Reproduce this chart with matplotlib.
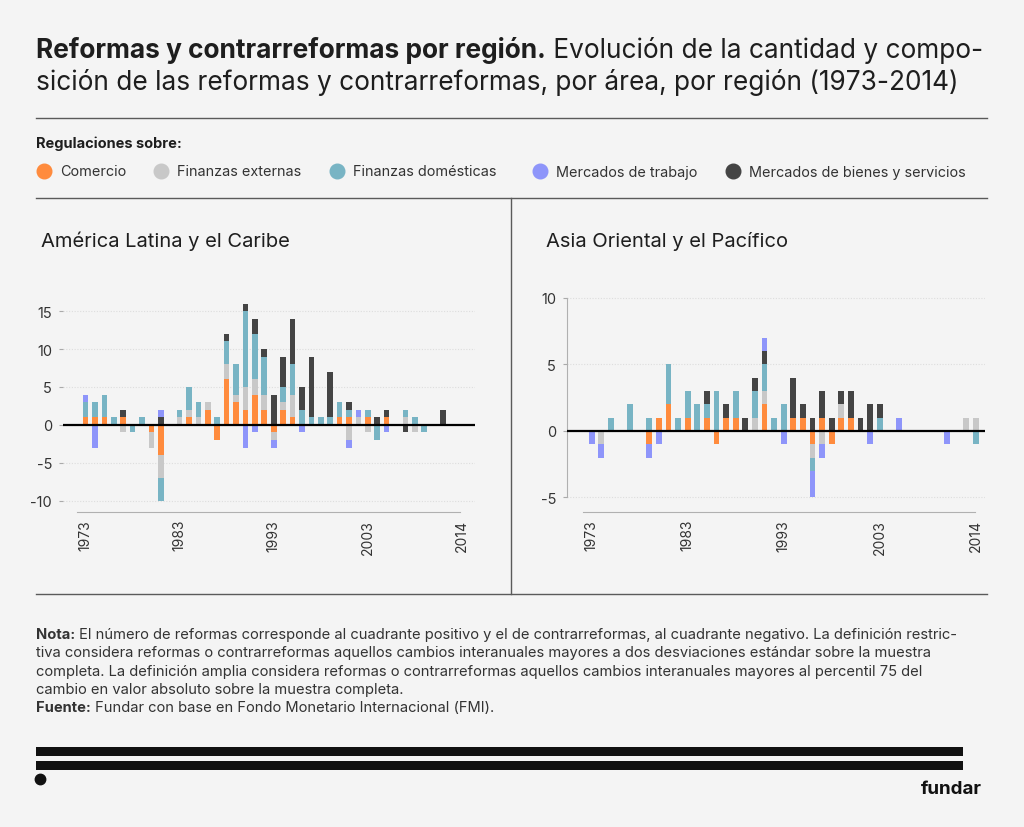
import numpy as np
import matplotlib.pyplot as plt
from matplotlib.lines import Line2D
from matplotlib.patches import Rectangle

plt.rcParams['font.family'] = ['Inter', 'DejaVu Sans']

W, H = 1024, 828
BG = '#f4f4f4'

# categorias del eje x (41 posiciones), etiquetas que se muestran
n_years = 41
tick_pos = [0, 10, 20, 30, 40]
tick_labels = ['1973', '1983', '1993', '2003', '2014']

# America Latina y el Caribe: reformas (positivo)
al_com_pos = [1, 1, 1, 0, 1, 0, 0, 0, 0, 0,  0, 1, 0, 2, 0, 6, 3, 2, 4, 2,  0, 2, 1, 0, 0, 0, 0, 1, 1, 0,  1, 0, 1, 0, 0, 0, 0, 0, 0, 0, 0]
al_ext_pos = [0, 0, 0, 0, 0, 0, 0, 0, 0, 0,  1, 1, 1, 1, 0, 2, 1, 3, 2, 2,  0, 1, 3, 0, 0, 0, 0, 0, 0, 1,  0, 0, 0, 0, 1, 0, 0, 0, 0, 0, 0]
al_dom_pos = [2, 2, 3, 1, 0, 0, 1, 0, 0, 0,  1, 3, 2, 0, 1, 3, 4, 10, 6, 5,  0, 2, 4, 2, 1, 1, 1, 2, 1, 0,  1, 0, 0, 0, 1, 1, 0, 0, 0, 0, 0]
al_bie_pos = [0, 0, 0, 0, 1, 0, 0, 0, 1, 0,  0, 0, 0, 0, 0, 1, 0, 1, 2, 1,  4, 4, 6, 3, 8, 0, 6, 0, 1, 0,  0, 1, 1, 0, 0, 0, 0, 0, 2, 0, 0]
al_lab_pos = [1, 0, 0, 0, 0, 0, 0, 0, 1, 0,  0, 0, 0, 0, 0, 0, 0, 0, 0, 0,  0, 0, 0, 0, 0, 0, 0, 0, 0, 1,  0, 0, 0, 0, 0, 0, 0, 0, 0, 0, 0]
# contrarreformas (negativo)
al_com_neg = [0, 0, 0, 0, 0, 0, 0, -1, -4, 0,  0, 0, 0, 0, -2, 0, 0, 0, 0, 0,  -1, 0, 0, 0, 0, 0, 0, 0, 0, 0,  0, 0, 0, 0, 0, 0, 0, 0, 0, 0, 0]
al_ext_neg = [0, 0, 0, 0, -1, 0, 0, -2, -3, 0,  0, 0, 0, 0, 0, 0, 0, 0, 0, 0,  -1, 0, 0, 0, 0, 0, 0, 0, -2, 0,  -1, 0, 0, 0, 0, -1, 0, 0, 0, 0, 0]
al_dom_neg = [0, 0, 0, 0, 0, -1, 0, 0, -3, 0,  0, 0, 0, 0, 0, 0, 0, 0, 0, 0,  0, 0, 0, 0, 0, 0, 0, 0, 0, 0,  0, -2, 0, 0, 0, 0, -1, 0, 0, 0, 0]
al_bie_neg = [0, 0, 0, 0, 0, 0, 0, 0, 0, 0,  0, 0, 0, 0, 0, 0, 0, 0, 0, 0,  0, 0, 0, 0, 0, 0, 0, 0, 0, 0,  0, 0, 0, 0, -1, 0, 0, 0, 0, 0, 0]
al_lab_neg = [0, -3, 0, 0, 0, 0, 0, 0, 0, 0,  0, 0, 0, 0, 0, 0, 0, -3, -1, 0,  -1, 0, 0, -1, 0, 0, 0, 0, -1, 0,  0, 0, -1, 0, 0, 0, 0, 0, 0, 0, 0]

# Asia Oriental y el Pacifico
ao_com_pos = [0, 0, 0, 0, 0, 0, 0, 1, 2, 0,  1, 0, 1, 0, 1, 1, 0, 0, 2, 0,  0, 1, 1, 0, 1, 0, 1, 1, 0, 0,  0, 0, 0, 0, 0, 0, 0, 0, 0, 0, 0]
ao_ext_pos = [0, 0, 0, 0, 0, 0, 0, 0, 0, 0,  0, 0, 0, 0, 0, 0, 0, 1, 1, 0,  0, 0, 0, 0, 0, 0, 1, 0, 0, 0,  0, 0, 0, 0, 0, 0, 0, 0, 0, 1, 1]
ao_dom_pos = [0, 0, 1, 0, 2, 0, 1, 0, 3, 1,  2, 2, 1, 3, 0, 2, 0, 2, 2, 1,  2, 0, 0, 0, 0, 0, 0, 0, 0, 0,  1, 0, 0, 0, 0, 0, 0, 0, 0, 0, 0]
ao_bie_pos = [0, 0, 0, 0, 0, 0, 0, 0, 0, 0,  0, 0, 1, 0, 1, 0, 1, 1, 1, 0,  0, 3, 1, 1, 2, 1, 1, 2, 1, 2,  1, 0, 0, 0, 0, 0, 0, 0, 0, 0, 0]
ao_lab_pos = [0, 0, 0, 0, 0, 0, 0, 0, 0, 0,  0, 0, 0, 0, 0, 0, 0, 0, 1, 0,  0, 0, 0, 0, 0, 0, 0, 0, 0, 0,  0, 0, 1, 0, 0, 0, 0, 0, 0, 0, 0]
ao_com_neg = [0, 0, 0, 0, 0, 0, -1, 0, 0, 0,  0, 0, 0, -1, 0, 0, 0, 0, 0, 0,  0, 0, 0, -1, 0, -1, 0, 0, 0, 0,  0, 0, 0, 0, 0, 0, 0, 0, 0, 0, 0]
ao_ext_neg = [0, -1, 0, 0, 0, 0, 0, 0, 0, 0,  0, 0, 0, 0, 0, 0, 0, 0, 0, 0,  0, 0, 0, -1, -1, 0, 0, 0, 0, 0,  0, 0, 0, 0, 0, 0, 0, 0, 0, 0, 0]
ao_dom_neg = [0, 0, 0, 0, 0, 0, 0, 0, 0, 0,  0, 0, 0, 0, 0, 0, 0, 0, 0, 0,  0, 0, 0, -1, 0, 0, 0, 0, 0, 0,  0, 0, 0, 0, 0, 0, 0, 0, 0, 0, -1]
ao_bie_neg = [0] * 41
ao_lab_neg = [-1, -1, 0, 0, 0, 0, -1, -1, 0, 0,  0, 0, 0, 0, 0, 0, 0, 0, 0, 0,  -1, 0, 0, -2, -1, 0, 0, 0, 0, -1,  0, 0, 0, 0, 0, 0, 0, -1, 0, 0, 0]

colors = {
    'Comercio': '#ff8b3d',
    'Finanzas externas': '#c8c8c8',
    'Finanzas domésticas': '#78b4c4',
    'Mercados de trabajo': '#8e95fa',
    'Mercados de bienes y servicios': '#444444',
}
# orden de apilado (de abajo hacia arriba)
stack_order = ['Comercio', 'Finanzas externas', 'Finanzas domésticas',
               'Mercados de bienes y servicios', 'Mercados de trabajo']
legend_order = ['Comercio', 'Finanzas externas', 'Finanzas domésticas',
                'Mercados de trabajo', 'Mercados de bienes y servicios']

al_pos = [al_com_pos, al_ext_pos, al_dom_pos, al_bie_pos, al_lab_pos]
al_neg = [al_com_neg, al_ext_neg, al_dom_neg, al_bie_neg, al_lab_neg]
ao_pos = [ao_com_pos, ao_ext_pos, ao_dom_pos, ao_bie_pos, ao_lab_pos]
ao_neg = [ao_com_neg, ao_ext_neg, ao_dom_neg, ao_bie_neg, ao_lab_neg]


def px(x, y):
    return x / W, 1 - y / H


fig = plt.figure(figsize=(W / 100, H / 100), dpi=100, facecolor=BG)
renderer = fig.canvas.get_renderer()


def rich(x, y, parts, size, color='#1e1e1e'):
    for txt, weight in parts:
        t = fig.text(*px(x, y), txt, fontsize=size, fontweight=weight,
                     color=color, va='baseline', ha='left')
        x = t.get_window_extent(renderer).x1


def hline(y, x0=36, x1=987, color='#5a5a5a', lw=1.0):
    fig.add_artist(Line2D([x0 / W, x1 / W], [1 - y / H] * 2, color=color, lw=lw))


def draw_panel(box, xlim, ylim, yticks, pos, neg, xbounds, left_spine):
    x0, y0, x1, y1 = box
    ax = fig.add_axes([x0 / W, 1 - y1 / H, (x1 - x0) / W, (y1 - y0) / H])
    ax.set_facecolor('none')
    x = np.arange(n_years)
    bp = np.zeros(n_years)
    bn = np.zeros(n_years)
    for name, vp, vn in zip(stack_order, pos, neg):
        vp = np.array(vp, dtype=float)
        vn = np.array(vn, dtype=float)
        ax.bar(x, vp, 0.6, bottom=bp, color=colors[name], lw=0, zorder=2)
        ax.bar(x, vn, 0.6, bottom=bn, color=colors[name], lw=0, zorder=2)
        bp += vp
        bn += vn
    ax.axhline(0, color='black', lw=1.6, zorder=3)
    ax.set_xlim(*xlim)
    ax.set_ylim(*ylim)
    ax.set_yticks(yticks)
    ax.set_yticklabels([str(v) for v in yticks])
    ax.yaxis.grid(True, linestyle=(0, (1, 1.5)), color='#dddddd', lw=0.8)
    ax.set_axisbelow(True)
    ax.set_xticks(tick_pos)
    ax.set_xticklabels(tick_labels, rotation=90)
    ax.tick_params(axis='x', length=0, pad=5, labelsize=10, labelcolor='#333333')
    ax.tick_params(axis='y', length=3, width=0.8, color='#aaaaaa', pad=5,
                   labelsize=10.5, labelcolor='#333333')
    for s in ['top', 'right']:
        ax.spines[s].set_visible(False)
    ax.spines['bottom'].set_color('#b0b0b0')
    ax.spines['bottom'].set_bounds(*xbounds)
    if left_spine:
        ax.spines['left'].set_color('#b0b0b0')
        ax.spines['left'].set_bounds(yticks[0], yticks[-1])
    else:
        ax.spines['left'].set_visible(False)
    return ax


draw_panel((63, 300, 475, 513), (-2.4, 41.4), (-11.5, 16.6), [-10, -5, 0, 5, 10, 15],
           al_pos, al_neg, (-0.9, 39.8), False)
draw_panel((567, 297, 985, 513), (-2.58, 40.96), (-6.1, 10.15), [-5, 0, 5, 10],
           ao_pos, ao_neg, (-0.95, 39.9), True)

# titulo
rich(36, 58, [('Reformas y contrarreformas por región.', 'bold'),
              (' Evolución de la cantidad y compo-', 'normal')], 18.9)
rich(36, 90, [('sición de las reformas y contrarreformas, por área, por región (1973-2014)', 'normal')], 18.9)

hline(119)
fig.text(*px(36, 148), 'Regulaciones sobre:', fontsize=10.5, fontweight='bold',
         color='#1e1e1e', va='baseline')

leg_x = [44, 161, 337, 540, 733]
for name, lx in zip(legend_order, leg_x):
    fig.add_artist(Line2D([lx / W], [1 - 172 / H], marker='o', ms=10.5, color=colors[name], lw=0))
    fig.text(*px(lx + 16, 172.5), name, fontsize=10.4, color='#333333', va='center')

hline(199)
hline(595)
fig.add_artist(Line2D([511 / W] * 2, [1 - 199 / H, 1 - 595 / H], color='#5a5a5a', lw=1.0))

fig.text(*px(41, 247), 'América Latina y el Caribe', fontsize=14.5, color='#1e1e1e', va='baseline')
fig.text(*px(546, 247), 'Asia Oriental y el Pacífico', fontsize=14.5, color='#1e1e1e', va='baseline')

# nota y fuente
note = [
    [('Nota:', 'bold'), (' El número de reformas corresponde al cuadrante positivo y el de contrarreformas, al cuadrante negativo. La definición restric-', 'normal')],
    [('tiva considera reformas o contrarreformas aquellos cambios interanuales mayores a dos desviaciones estándar sobre la muestra', 'normal')],
    [('completa. La definición amplia considera reformas o contrarreformas aquellos cambios interanuales mayores al percentil 75 del', 'normal')],
    [('cambio en valor absoluto sobre la muestra completa.', 'normal')],
    [('Fuente:', 'bold'), (' Fundar con base en Fondo Monetario Internacional (FMI).', 'normal')],
]
for i, parts in enumerate(note):
    rich(36, 639 + i * 18.3, parts, 10.6, color='#333333')

# pie con logo
for yb in [747.5, 761.5]:
    fig.add_artist(Rectangle(px(36, yb + 9), (963 - 36) / W, 9 / H, color='#111111', lw=0))
fig.add_artist(Line2D([40 / W], [1 - 780 / H], marker='o', ms=7.5, color='#111111', lw=0))
fig.text(*px(982, 794), 'fundar', fontsize=13.5, fontweight='bold', color='#111111',
         ha='right', va='baseline')

fig.savefig('out.png', dpi=100, facecolor=BG)
